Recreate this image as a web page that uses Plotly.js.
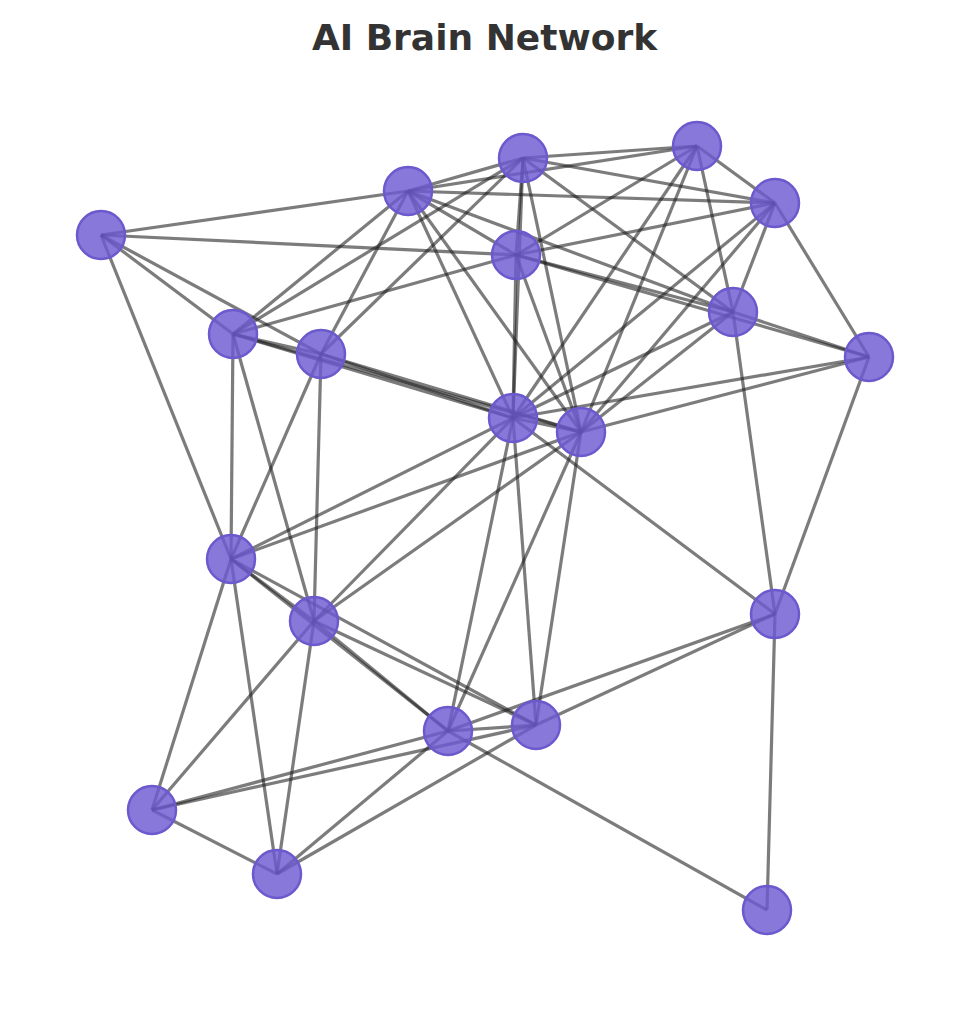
<!DOCTYPE html>
<html>
<head>
<meta charset="utf-8">
<script src="https://cdn.plot.ly/plotly-3.0.1.min.js"></script>
<style>html,body{margin:0;padding:0;background:#fff;}</style>
</head>
<body>
<div id="chart" style="width:969px;height:1010px;"></div>
<script>
// node layout positions
var nodeX = [101, 408, 523, 697, 775, 516, 733, 869, 233, 321, 513, 581, 231, 314, 775, 448, 536, 152, 277, 767];
var nodeY = [235, 191, 158, 146, 203, 255, 312, 357, 334, 354, 418, 432, 559, 621, 614, 731, 725, 810, 874, 910];

var edges = [
  [0,1],[0,5],[0,8],[0,9],[0,12],
  [1,2],[1,3],[1,4],[1,5],[1,6],[1,8],[1,9],[1,10],[1,11],
  [2,3],[2,4],[2,5],[2,6],[2,8],[2,9],[2,10],[2,11],
  [3,4],[3,5],[3,6],[3,10],[3,11],
  [4,5],[4,6],[4,7],[4,10],[4,11],
  [5,6],[5,7],[5,8],[5,10],[5,11],
  [6,7],[6,10],[6,11],[6,14],
  [7,10],[7,11],[7,14],
  [8,9],[8,10],[8,11],[8,12],[8,13],
  [9,10],[9,11],[9,12],[9,13],
  [10,11],[10,12],[10,13],[10,14],[10,15],[10,16],
  [11,12],[11,13],[11,15],[11,16],
  [12,13],[12,15],[12,16],[12,17],[12,18],
  [13,15],[13,16],[13,17],[13,18],
  [14,15],[14,16],[14,19],
  [15,16],[15,17],[15,18],[15,19],
  [16,17],[16,18],
  [17,18]
];

var ex = [], ey = [];
edges.forEach(function(e){
  ex.push(nodeX[e[0]], nodeX[e[1]], null);
  ey.push(nodeY[e[0]], nodeY[e[1]], null);
});

var edgeTrace = {x:ex, y:ey, mode:'lines', type:'scatter',
  line:{color:'rgba(30,30,30,0.58)', width:3.2}, hoverinfo:'skip'};

var nodeTrace = {x:nodeX, y:nodeY, mode:'markers', type:'scatter',
  marker:{size:48, color:'rgba(110,90,210,0.82)', line:{color:'#6a5acd', width:2.5}},
  hoverinfo:'skip'};

var layout = {
  title:{text:'<b>AI Brain Network</b>', x:0.5, y:0.963, yanchor:'middle',
    font:{family:'DejaVu Sans', size:36, color:'#333'}},
  width:969, height:1010,
  margin:{l:0, r:0, t:0, b:0},
  xaxis:{range:[0,969], visible:false},
  yaxis:{range:[1010,0], visible:false},
  showlegend:false,
  paper_bgcolor:'#fff', plot_bgcolor:'#fff'
};

Plotly.newPlot('chart', [edgeTrace, nodeTrace], layout, {staticPlot:true});
</script>
</body>
</html>
